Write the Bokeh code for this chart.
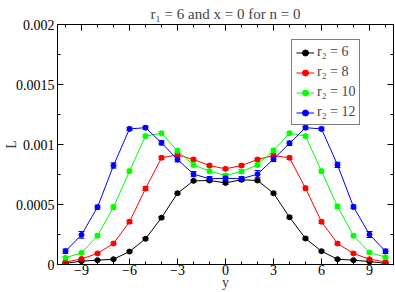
from bokeh.plotting import figure
from bokeh.models import (ColumnDataSource, Whisker, TeeHead, LinearAxis, SingleIntervalTicker,
                          Range1d, Legend, LegendItem, CustomJSTickFormatter)
from bokeh.embed import file_html
from bokeh.resources import INLINE

y_vals = [-10, -9, -8, -7, -6, -5, -4, -3, -2, -1, 0, 1, 2, 3, 4, 5, 6, 7, 8, 9, 10]

L6 = [0.00001, 0.000028, 0.000036, 0.000044, 0.000108, 0.000214, 0.00039, 0.000594, 0.000697, 0.0007,
      0.00068, 0.000706, 0.0007, 0.000594, 0.000394, 0.000217, 0.000111, 0.000044, 0.000036, 0.000025, 0.00001]
L8 = [0.00002, 0.000047, 0.000092, 0.000175, 0.000356, 0.000633, 0.000889, 0.000914, 0.000875, 0.000825,
      0.000797, 0.000825, 0.000875, 0.000908, 0.000889, 0.000636, 0.000356, 0.000175, 0.000092, 0.000044, 0.000022]
L10 = [0.000056, 0.000097, 0.000239, 0.000478, 0.000778, 0.00107, 0.001094, 0.000947, 0.00083, 0.000778,
       0.000742, 0.000775, 0.00083, 0.00095, 0.001094, 0.00107, 0.000778, 0.000483, 0.00024, 0.0001, 0.000061]
L12 = [0.000111, 0.000247, 0.000478, 0.000825, 0.00113, 0.00114, 0.001014, 0.000875, 0.000753, 0.000714,
       0.000719, 0.000714, 0.000753, 0.000878, 0.00101, 0.00114, 0.00113, 0.00083, 0.00048, 0.00025, 0.00011]

E6 = [0.000005, 0.000006, 0.000006, 0.000007, 0.000008, 0.00001, 0.00001, 0.00001, 0.00001, 0.00001,
      0.000012, 0.00001, 0.00001, 0.00001, 0.00001, 0.00001, 0.000008, 0.000007, 0.000006, 0.000006, 0.000005]
E8 = [0.000008, 0.000008, 0.00001, 0.000012, 0.000014, 0.000016, 0.000014, 0.000014, 0.000012, 0.000012,
      0.000012, 0.000012, 0.000012, 0.000014, 0.000014, 0.000016, 0.000014, 0.000012, 0.00001, 0.000008, 0.000008]
E10 = [0.00001, 0.000012, 0.000014, 0.000018, 0.000016, 0.000014, 0.000014, 0.000016, 0.000015, 0.000015,
       0.000015, 0.000015, 0.000015, 0.000018, 0.000014, 0.000014, 0.000016, 0.000018, 0.000014, 0.000012, 0.00001]
E12 = [0.000018, 0.000028, 0.000016, 0.000022, 0.000014, 0.000014, 0.000018, 0.00002, 0.000022, 0.000018,
       0.000018, 0.000018, 0.00003, 0.00002, 0.000018, 0.000014, 0.000014, 0.000022, 0.000016, 0.000025, 0.000018]

series_labels = ["r\u2082 = 6", "r\u2082 = 8", "r\u2082 = 10", "r\u2082 = 12"]
series_colors = ["#000000", "#ff0000", "#00ff00", "#0000ff"]
series_values = [L6, L8, L10, L12]
series_errors = [E6, E8, E10, E12]

x_ticks_interval = 3
y_ticks_interval = 0.0005
y_tick_labels = {0: "0", 0.0005: "0.0005", 0.001: "0.001", 0.0015: "0.0015", 0.002: "0.002"}

FONT = "Liberation Serif"

p = figure(width=395, height=292, output_backend="svg", toolbar_location=None,
           x_range=Range1d(-10.5, 10.5), y_range=Range1d(0, 0.002),
           min_border_left=50, min_border_right=2, min_border_top=24, min_border_bottom=28)
p.title.text = "r\u2081 = 6 and x = 0 for n = 0"
p.title.align = "center"
p.title.text_font = FONT
p.title.text_font_size = "15px"
p.title.text_font_style = "normal"
p.title.standoff = 5
p.title.offset = 0
p.grid.visible = False
p.outline_line_color = "black"

def style_axis(ax, show_labels=True):
    ax.major_tick_in = 6
    ax.major_tick_out = 0
    ax.minor_tick_in = 3
    ax.minor_tick_out = 0
    ax.axis_line_color = "black"
    ax.major_tick_line_color = "black"
    ax.minor_tick_line_color = "black"
    ax.major_label_text_font = FONT
    ax.major_label_text_font_size = "14px"
    ax.major_label_text_color = "black"
    ax.axis_label_text_font = FONT
    ax.axis_label_text_font_size = "14px"
    ax.axis_label_text_font_style = "normal"
    ax.major_label_standoff = 2
    if not show_labels:
        ax.formatter = CustomJSTickFormatter(code="return ''")
        ax.major_label_standoff = 0
        ax.major_label_text_font_size = "0px"

xt = SingleIntervalTicker(interval=x_ticks_interval, num_minor_ticks=3)
yt = SingleIntervalTicker(interval=y_ticks_interval, num_minor_ticks=2)

p.xaxis.ticker = xt
p.yaxis.ticker = yt
p.xaxis.axis_label = "y"
p.yaxis.axis_label = "L"
style_axis(p.xaxis[0])
style_axis(p.yaxis[0])
p.yaxis.major_label_overrides = y_tick_labels
p.xaxis.major_label_standoff = 0
p.xaxis.axis_label_standoff = -3
p.yaxis.major_label_standoff = 3
p.yaxis.axis_label_standoff = -6

top_ax = LinearAxis(ticker=SingleIntervalTicker(interval=x_ticks_interval, num_minor_ticks=3))
style_axis(top_ax, show_labels=False)
p.add_layout(top_ax, "above")
right_ax = LinearAxis(ticker=SingleIntervalTicker(interval=y_ticks_interval, num_minor_ticks=2))
style_axis(right_ax, show_labels=False)
p.add_layout(right_ax, "right")

items = []
for lab, col, vals, errs in zip(series_labels, series_colors, series_values, series_errors):
    src = ColumnDataSource(dict(x=y_vals, y=vals,
                                lo=[v - e for v, e in zip(vals, errs)],
                                hi=[v + e for v, e in zip(vals, errs)]))
    w = Whisker(base="x", upper="hi", lower="lo", source=src, line_color=col, line_width=1,
                upper_head=TeeHead(size=6, line_color=col, line_width=1),
                lower_head=TeeHead(size=6, line_color=col, line_width=1))
    p.add_layout(w)
    r1 = p.line("x", "y", source=src, line_color=col, line_width=1)
    r2 = p.scatter("x", "y", source=src, marker="circle", size=5, fill_color=col, line_color=col)
    items.append(LegendItem(label=lab, renderers=[r1, r2]))

legend = Legend(items=items)
legend.label_text_font = FONT
legend.label_text_font_size = "14px"
legend.glyph_width = 18
legend.glyph_height = 15
legend.spacing = 4
legend.padding = 4
legend.margin = 0
legend.label_standoff = 3
legend.border_line_color = "black"
legend.border_line_width = 1
legend.background_fill_alpha = 1
legend.location = (234, 139)
p.add_layout(legend, "center")

open("out.html", "w").write(file_html(p, INLINE))
